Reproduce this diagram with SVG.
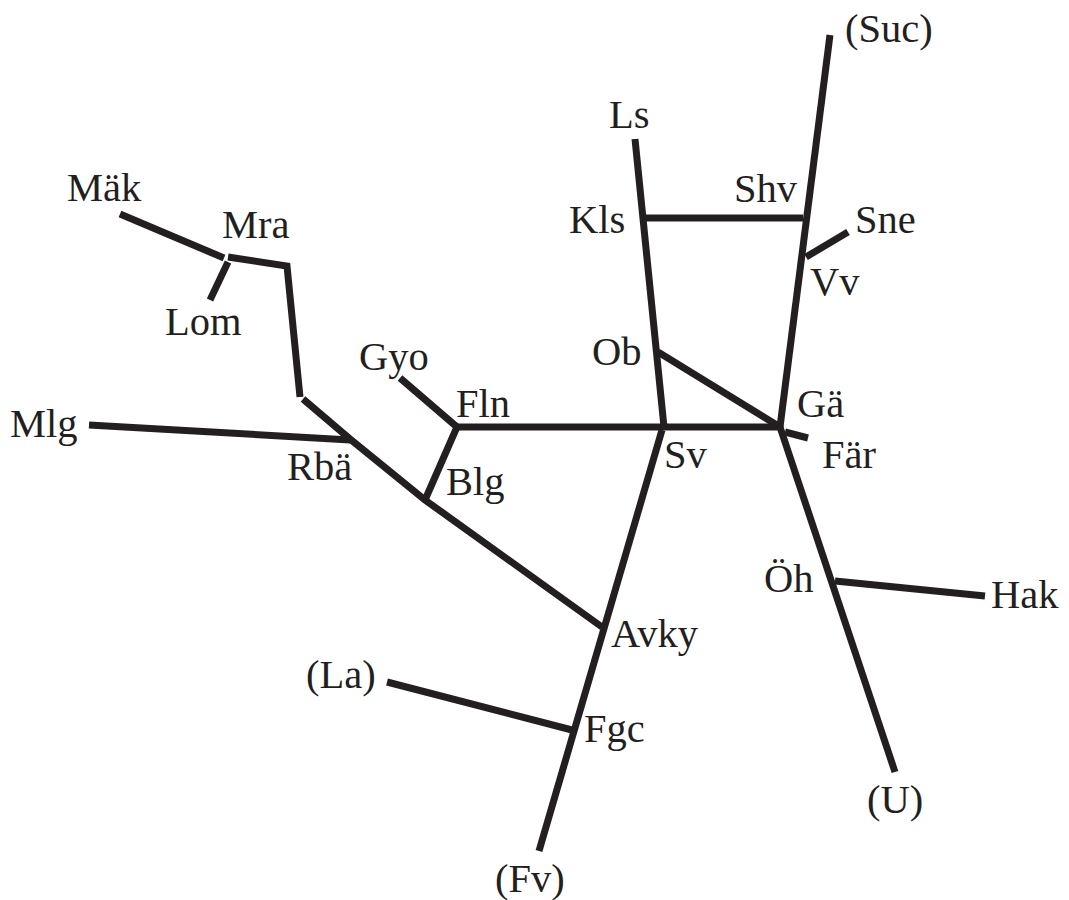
<svg xmlns="http://www.w3.org/2000/svg" width="1069" height="900" viewBox="0 0 1069 900">
<style>
.e{stroke:#231f20;stroke-width:7;fill:none;stroke-linecap:butt;stroke-linejoin:miter}
.t{font-family:'Liberation Serif','Times New Roman',serif;font-size:40.5px;fill:#231f20}
</style>
<rect width="1069" height="900" fill="#fff"/>
<g id="connectors">
<line class="e" x1="120" y1="214" x2="224" y2="258"/>
<polyline class="e" points="228,257 287,266 300,397"/>
<line class="e" x1="228" y1="262" x2="210" y2="300"/>
<polyline class="e" points="303,399 350,439 425,500 602,627"/>
<line class="e" x1="89" y1="425" x2="350" y2="440"/>
<polyline class="e" points="425,500 457,427 400,378"/>
<line class="e" x1="457" y1="427" x2="782" y2="427"/>
<line class="e" x1="635" y1="139" x2="664" y2="427"/>
<line class="e" x1="645" y1="218" x2="803" y2="218"/>
<line class="e" x1="830" y1="35" x2="780" y2="427"/>
<line class="e" x1="806" y1="257" x2="848" y2="232"/>
<line class="e" x1="658" y1="352" x2="780" y2="427"/>
<line class="e" x1="785" y1="432" x2="808" y2="438"/>
<line class="e" x1="662" y1="430" x2="539" y2="851"/>
<line class="e" x1="780" y1="427" x2="895" y2="772"/>
<line class="e" x1="835" y1="581" x2="985" y2="596"/>
<line class="e" x1="387" y1="682" x2="572" y2="730"/>
</g>
<g class="t">
<g id="n-Mak"><text x="67" y="201">Mäk</text></g>
<g id="n-Mra"><text x="222" y="238">Mra</text></g>
<g id="n-Lom"><text x="165" y="335">Lom</text></g>
<g id="n-Gyo"><text x="359" y="370">Gyo</text></g>
<g id="n-Mlg"><text x="10" y="437">Mlg</text></g>
<g id="n-Fln"><text x="456" y="417">Fln</text></g>
<g id="n-Rba"><text x="287" y="480">Rbä</text></g>
<g id="n-Blg"><text x="446" y="495">Blg</text></g>
<g id="n-Ls"><text x="609" y="128">Ls</text></g>
<g id="n-Shv"><text x="734" y="202">Shv</text></g>
<g id="n-Kls"><text x="569" y="233">Kls</text></g>
<g id="n-Sne"><text x="855" y="233">Sne</text></g>
<g id="n-Vv"><text x="810" y="295">Vv</text></g>
<g id="n-Ob"><text x="592" y="365">Ob</text></g>
<g id="n-Ga"><text x="797" y="417">Gä</text></g>
<g id="n-Sv"><text x="664" y="468">Sv</text></g>
<g id="n-Far"><text x="822" y="468">Fär</text></g>
<g id="n-Avky"><text x="611" y="647">Avky</text></g>
<g id="n-La"><text x="306" y="688">(La)</text></g>
<g id="n-Fgc"><text x="584" y="742">Fgc</text></g>
<g id="n-Fv"><text x="495" y="892">(Fv)</text></g>
<g id="n-Oh"><text x="764" y="592">Öh</text></g>
<g id="n-Hak"><text x="991" y="608">Hak</text></g>
<g id="n-U"><text x="867" y="813">(U)</text></g>
<g id="n-Suc"><text x="845" y="42">(Suc)</text></g>
</g>
</svg>
